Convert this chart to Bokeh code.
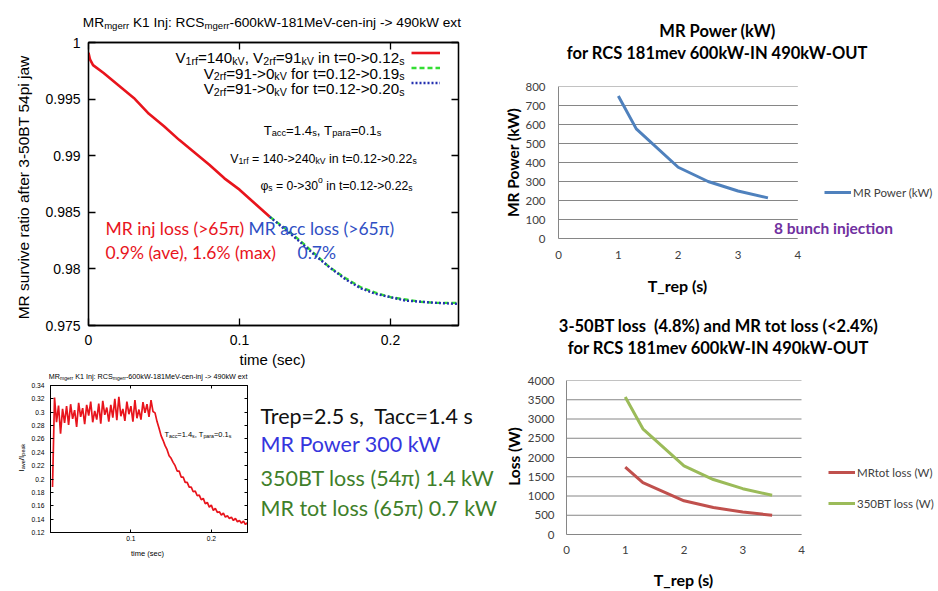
import math
from bokeh.plotting import figure
from bokeh.models import (Range1d, LinearAxis, FixedTicker, CustomJSTickFormatter,
                          Label, Legend, LegendItem)
from bokeh.layouts import row, column
from bokeh.embed import file_html
from bokeh.resources import INLINE

# ---------------- data ----------------
# Panel A: MR survive ratio vs time
inj_t = [0.0, 0.001, 0.003, 0.01, 0.02, 0.03, 0.04, 0.05, 0.06, 0.07, 0.08, 0.09, 0.10, 0.11, 0.12]
inj_ratio = [0.9991, 0.9985, 0.9980, 0.9973, 0.9962, 0.9951, 0.9937, 0.9926, 0.9914, 0.9903,
             0.9892, 0.9880, 0.9870, 0.9858, 0.9846]
acc_t = [0.12, 0.13, 0.14, 0.15, 0.16, 0.17, 0.18, 0.19, 0.20, 0.21, 0.22, 0.23, 0.245]
acc_ratio_19 = [0.9846, 0.9836, 0.9825, 0.9813, 0.9801, 0.9792, 0.9784, 0.9779, 0.9775, 0.9773, 0.9771, 0.9770, 0.9770]
acc_ratio_20 = [0.9846, 0.9835, 0.9824, 0.9812, 0.9801, 0.9791, 0.9783, 0.9778, 0.9775, 0.9772, 0.9771, 0.9770, 0.9769]
a_xticks = [0.0, 0.1, 0.2]
a_xlabels = ["0", "0.1", "0.2"]
a_yticks = [0.975, 0.98, 0.985, 0.99, 0.995, 1.0]
a_ylabels = ["0.975", "0.98", "0.985", "0.99", "0.995", "1"]

# Panel B: I_ave / I_peak vs time
b_t = [0.0025, 0.0050, 0.0075, 0.0100, 0.0125, 0.0150, 0.0175, 0.0200, 0.0225, 0.0250,
       0.0275, 0.0300, 0.0325, 0.0350, 0.0375, 0.0400, 0.0425, 0.0450, 0.0475, 0.0500,
       0.0525, 0.0550, 0.0575, 0.0600, 0.0625, 0.0650, 0.0675, 0.0700, 0.0725, 0.0750,
       0.0775, 0.0800, 0.0825, 0.0850, 0.0875, 0.0900, 0.0925, 0.0950, 0.0975, 0.1000,
       0.1025, 0.1050, 0.1075, 0.1100, 0.1125, 0.1150, 0.1175, 0.1200, 0.1225, 0.1250,
       0.1275, 0.1300, 0.1325, 0.1350, 0.1375, 0.1400, 0.1425, 0.1450, 0.1475, 0.1500,
       0.1525, 0.1550, 0.1575, 0.1600, 0.1625, 0.1650, 0.1675, 0.1700, 0.1725, 0.1750,
       0.1775, 0.1800, 0.1825, 0.1850, 0.1875, 0.1900, 0.1925, 0.1950, 0.1975, 0.2000,
       0.2025, 0.2050, 0.2075, 0.2100, 0.2125, 0.2150, 0.2175, 0.2200, 0.2225, 0.2250,
       0.2275, 0.2300, 0.2325, 0.2350, 0.2375, 0.2400, 0.2425, 0.2450]
b_ratio = [0.188, 0.322, 0.285, 0.310, 0.268, 0.305, 0.284, 0.309, 0.281, 0.312,
           0.290, 0.303, 0.278, 0.314, 0.293, 0.306, 0.282, 0.311, 0.295, 0.316,
           0.285, 0.302, 0.289, 0.313, 0.283, 0.317, 0.296, 0.307, 0.286, 0.311,
           0.292, 0.320, 0.288, 0.323, 0.294, 0.305, 0.287, 0.316, 0.297, 0.309,
           0.286, 0.318, 0.291, 0.304, 0.289, 0.315, 0.299, 0.312, 0.293, 0.318,
           0.301, 0.299, 0.286, 0.276, 0.265, 0.258, 0.250, 0.244, 0.235, 0.231,
           0.225, 0.220, 0.212, 0.212, 0.203, 0.203, 0.195, 0.195, 0.188, 0.188,
           0.181, 0.182, 0.175, 0.176, 0.169, 0.171, 0.163, 0.165, 0.158, 0.161,
           0.153, 0.156, 0.150, 0.151, 0.146, 0.149, 0.143, 0.145, 0.141, 0.143,
           0.138, 0.141, 0.136, 0.138, 0.134, 0.137, 0.132, 0.135]
b_xticks = [0.1, 0.2]
b_xlabels = ["0.1", "0.2"]
b_yticks = [0.12, 0.14, 0.16, 0.18, 0.20, 0.22, 0.24, 0.26, 0.28, 0.30, 0.32, 0.34]
b_ylabels = ["0.12", "0.14", "0.16", "0.18", "0.2", "0.22", "0.24", "0.26", "0.28", "0.3", "0.32", "0.34"]

# Panel C: MR power vs T_rep
trep = [1.0, 1.3, 2.0, 2.5, 3.0, 3.5]
mr_power_kw = [750, 577, 375, 300, 250, 214]
c_xticks = [0, 1, 2, 3, 4]
c_xlabels = ["0", "1", "2", "3", "4"]
c_yticks = [0, 100, 200, 300, 400, 500, 600, 700, 800]
c_ylabels = ["0", "100", "200", "300", "400", "500", "600", "700", "800"]

# Panel D: losses vs T_rep
mrtot_loss_w = [1750, 1346, 875, 700, 583, 500]
bt350_loss_w = [3570, 2746, 1785, 1428, 1190, 1020]
d_yticks = [0, 500, 1000, 1500, 2000, 2500, 3000, 3500, 4000]
d_ylabels = ["0", "500", "1000", "1500", "2000", "2500", "3000", "3500", "4000"]

# ---------------- helpers ----------------
GN = "Liberation Sans"
XL = "Lato"
RED = "#e8141c"
BLUE_T = "#2f4fc4"
NB = "\u00a0"

AW = {' ': 278, NB: 278, '!': 278, '(': 333, ')': 333, ',': 278, '-': 333, '.': 278, '/': 278, ':': 278,
      '=': 584, '>': 584, '<': 584, '°': 400, 'φ': 650,
      'A': 667, 'B': 667, 'C': 722, 'D': 722, 'E': 667, 'F': 611, 'G': 778, 'H': 722, 'I': 278,
      'J': 500, 'K': 667, 'L': 556, 'M': 833, 'N': 722, 'O': 778, 'P': 667, 'Q': 778, 'R': 722,
      'S': 667, 'T': 611, 'U': 722, 'V': 667, 'W': 944, 'X': 667, 'Y': 667, 'Z': 611,
      'a': 556, 'b': 556, 'c': 500, 'd': 556, 'e': 556, 'f': 278, 'g': 556, 'h': 556, 'i': 222,
      'j': 222, 'k': 500, 'l': 222, 'm': 833, 'n': 556, 'o': 556, 'p': 556, 'q': 556, 'r': 333,
      's': 500, 't': 278, 'u': 556, 'v': 500, 'w': 722, 'x': 500, 'y': 500, 'z': 500}
for d in "0123456789":
    AW[d] = 556


def text_w(s, size):
    return sum(AW.get(c, 556) for c in s) * size / 1000.0


def put(p, x, y, **kw):
    # x, y in picture pixels, through the "px"/"py" ranges of each figure
    p.add_layout(Label(x=x, y=y, x_range_name="px", y_range_name="py", **kw))


def rich(p, x, y, segs, size, color="black", align="left", angle=0.0, font=GN):
    sc = {"n": 1.0, "sub": 0.7, "sup": 0.7}
    dv = {"n": 0.0, "sub": 0.22, "sup": -0.42}
    segs = [(t.replace(" ", NB), k) for t, k in segs]
    total = sum(text_w(t, size * sc[k]) for t, k in segs)
    pos = {"left": 0.0, "center": -total / 2.0, "right": -total}[align]
    ca, sa = math.cos(angle), math.sin(angle)
    for t, k in segs:
        s = size * sc[k]
        d = dv[k] * size
        lx = x + pos * ca + d * sa
        ly = y - pos * sa + d * ca
        put(p, lx, ly, text=t, text_font=font, text_font_size=f"{s:.2f}px", text_color=color,
            text_align="left", text_baseline="alphabetic", angle=angle)
        pos += text_w(t, s)


def plain(p, x, y, text, size, color="black", font=XL, style="normal", align="left", angle=0.0):
    put(p, x, y, text=text.replace("  ", NB + " "), text_font=font, text_font_size=f"{size}px",
        text_color=color, text_font_style=style, text_align=align, text_baseline="middle", angle=angle)


def panel(ox, oy, w, h, L, T, R, B, xr, yr):
    p = figure(width=w, height=h, x_range=xr, y_range=yr, output_backend="svg",
               toolbar_location=None, min_border_left=L - ox, min_border_right=ox + w - R,
               min_border_top=T - oy, min_border_bottom=oy + h - B,
               background_fill_color="white", border_fill_color="white")
    p.extra_x_ranges = {"px": Range1d(L, R)}
    p.extra_y_ranges = {"py": Range1d(B, T)}
    return p


def band(x0, y0, w, h):
    p = figure(width=w, height=h, x_range=Range1d(x0, x0 + w), y_range=Range1d(y0 + h, y0),
               output_backend="svg", toolbar_location=None, x_axis_type=None, y_axis_type=None,
               min_border=0, min_border_left=0, min_border_right=0, min_border_top=0,
               min_border_bottom=0, outline_line_color=None, background_fill_color="white",
               border_fill_color="white")
    p.extra_x_ranges = {"px": Range1d(x0, x0 + w)}
    p.extra_y_ranges = {"py": Range1d(y0 + h, y0)}
    return p


def tick_fmt(vals, labs):
    return CustomJSTickFormatter(args=dict(vals=vals, labs=labs), code="""
let b = 0;
for (let i = 0; i < vals.length; i++) {
  if (Math.abs(vals[i] - tick) < Math.abs(vals[b] - tick)) { b = i; }
}
return labs[b];
""")


def gp_axes(p, xt, xl, yt, yl, size, tick, xs, ys, lw):
    p.grid.visible = False
    p.outline_line_color = "black"
    p.outline_line_width = lw
    bx = p.xaxis[0]
    by = p.yaxis[0]
    bx.ticker = FixedTicker(ticks=xt)
    bx.formatter = tick_fmt(xt, xl)
    by.ticker = FixedTicker(ticks=yt)
    by.formatter = tick_fmt(yt, yl)
    bx.major_label_standoff = xs
    by.major_label_standoff = ys
    top = LinearAxis(ticker=FixedTicker(ticks=xt), formatter=CustomJSTickFormatter(code="return '';"),
                     major_label_standoff=0)
    right = LinearAxis(ticker=FixedTicker(ticks=yt), formatter=CustomJSTickFormatter(code="return '';"),
                       major_label_standoff=0)
    p.add_layout(top, "above")
    p.add_layout(right, "right")
    for a in (bx, by, top, right):
        a.major_tick_in = tick
        a.major_tick_out = 0
        a.minor_tick_in = 0
        a.minor_tick_out = 0
        a.axis_line_color = "black"
        a.axis_line_width = lw
        a.major_tick_line_color = "black"
        a.major_tick_line_width = lw
        a.major_label_text_font = GN
        a.major_label_text_font_size = f"{size}px"
        a.major_label_text_color = "black"
    top.major_label_text_font_size = "1px"
    right.major_label_text_font_size = "1px"


def xl_axes(p, xt, xl, yt, yl, xs, ys):
    p.outline_line_color = None
    p.grid.visible = False
    for a, t, l, s in ((p.xaxis[0], xt, xl, xs), (p.yaxis[0], yt, yl, ys)):
        a.ticker = FixedTicker(ticks=t)
        a.formatter = tick_fmt(t, l)
        a.major_tick_in = 0
        a.major_tick_out = 0
        a.minor_tick_in = 0
        a.minor_tick_out = 0
        a.axis_line_color = "#868686"
        a.major_label_text_font = XL
        a.major_label_text_font_size = "11.5px"
        a.major_label_text_color = "#404040"
        a.major_label_standoff = s
    p.xaxis[0].bounds = (xt[0], xt[-1])
    # horizontal gridlines over the 0..4 span of the category axis
    p.segment(x0=[xt[0]] * len(yt), x1=[xt[-1]] * len(yt), y0=yt, y1=yt,
              line_color="#868686", line_width=1)


def block(top, left, plot, bottom):
    return column(row(top), row(column(left), column(plot)), row(bottom))


# ---------------- Panel A ----------------
tA = band(0, 0, 480, 34)
lA = band(0, 34, 40, 316)
pA = panel(40, 34, 440, 316, 88, 42, 458, 325, Range1d(0, 0.245), Range1d(0.975, 1.0))
bA = band(0, 350, 480, 18)
gp_axes(pA, a_xticks, a_xlabels, a_yticks, a_ylabels, 14, 7, 9, 8, 1.3)
r_red = pA.line(inj_t, inj_ratio, line_color=RED, line_width=2.6)
r_grn = pA.line(acc_t, acc_ratio_19, line_color="#33dd33", line_width=2.4, line_dash="5 3")
r_blu = pA.line(acc_t, acc_ratio_20, line_color="#2430b0", line_width=2.4, line_dash="2 2")
leg_a = Legend(items=[LegendItem(label="", renderers=[r_red]),
                      LegendItem(label="", renderers=[r_grn]),
                      LegendItem(label="", renderers=[r_blu])],
               location=(323, 235), glyph_width=29, glyph_height=15, label_height=15, spacing=0,
               padding=0, margin=0, label_width=0, label_standoff=0,
               border_line_color=None, background_fill_alpha=0)
pA.add_layout(leg_a, "center")

rich(tA, 272, 22, [("MR", "n"), ("mgerr", "sub"), (" K1 Inj: RCS", "n"), ("mgerr", "sub"),
                   ("-600kW-181MeV-cen-inj -> 490kW ext", "n")], 13.7, align="center")
rich(pA, 404, 57, [("V", "n"), ("1rf", "sub"), ("=140", "n"), ("kV", "sub"), (", V", "n"), ("2rf", "sub"),
                   ("=91", "n"), ("kV", "sub"), (" in t=0->0.12", "n"), ("s", "sub")], 15.2, align="right")
rich(pA, 404, 72.5, [("V", "n"), ("2rf", "sub"), ("=91->0", "n"), ("kV", "sub"),
                     (" for t=0.12->0.19", "n"), ("s", "sub")], 15.2, align="right")
rich(pA, 404, 88, [("V", "n"), ("2rf", "sub"), ("=91->0", "n"), ("kV", "sub"),
                   (" for t=0.12->0.20", "n"), ("s", "sub")], 15.2, align="right")
rich(pA, 322, 130, [("T", "n"), ("acc", "sub"), ("=1.4", "n"), ("s", "sub"), (", T", "n"), ("para", "sub"),
                    ("=0.1", "n"), ("s", "sub")], 13.2, align="center")
rich(pA, 323, 158, [("V", "n"), ("1rf", "sub"), (" = 140->240", "n"), ("kV", "sub"),
                    (" in t=0.12->0.22", "n"), ("s", "sub")], 12.4, align="center")
rich(pA, 336, 185, [("φ", "n"), ("s", "sub"), (" = 0->30", "n"), ("o", "sup"),
                    (" in t=0.12->0.22", "n"), ("s", "sub")], 12.2, align="center")
rich(lA, 23, 187, [("MR survive ratio after 3-50BT 54pi jaw", "n")], 15.5, align="center",
     angle=math.pi / 2)
plain(bA, 272, 359, "time (sec)", 15, font=GN, align="center")
plain(pA, 105, 228, "MR inj loss (>65π)", 17.5, color=RED)
plain(pA, 248, 228, "MR acc loss (>65π)", 17.5, color=BLUE_T)
plain(pA, 105, 252, "0.9% (ave), 1.6% (max)", 17.5, color=RED)
plain(pA, 297, 252, "0.7%", 17.5, color=BLUE_T)

# ---------------- Panel B ----------------
tB = band(0, 368, 250, 13)
lB = band(0, 381, 26, 164)
pB = panel(26, 381, 224, 164, 50, 385, 247, 532, Range1d(0, 0.245), Range1d(0.12, 0.34))
bB = band(0, 545, 250, 46)
gp_axes(pB, b_xticks, b_xlabels, b_yticks, b_ylabels, 6.7, 3, 3, 6, 1)
pB.line(b_t, b_ratio, line_color=RED, line_width=1.7)
rich(tB, 148, 375.5, [("MR", "n"), ("mgerr", "sub"), (" K1 Inj: RCS", "n"), ("mgerr", "sub"),
                      ("-600kW-181MeV-cen-inj -> 490kW ext", "n")], 7.2, align="center")
rich(pB, 164, 434, [("T", "n"), ("acc", "sub"), ("=1.4", "n"), ("s", "sub"), (", T", "n"), ("para", "sub"),
                    ("=0.1", "n"), ("s", "sub")], 7.5)
rich(lB, 20.5, 457, [("I", "n"), ("ave", "sub"), ("/I", "n"), ("peak", "sub")], 8, align="center",
     angle=math.pi / 2)
plain(bB, 147, 553, "time (sec)", 7.5, font=GN, align="center")

# ---------------- Text block ----------------
pE = band(250, 368, 253, 223)
GREEN_T = "#3f7f2a"
plain(pE, 260, 415, "Trep=2.5 s,  Tacc=1.4 s", 21.5, color="#111111")
plain(pE, 260, 443, "MR Power 300 kW", 21.5, color="#3535dd")
plain(pE, 260, 477, "350BT loss (54π) 1.4 kW", 21.5, color=GREEN_T)
plain(pE, 260, 507, "MR tot loss (65π) 0.7 kW", 21.5, color=GREEN_T)

# ---------------- Panel C ----------------
tC = band(480, 0, 458, 70)
lC = band(480, 70, 42, 198)
pC = panel(522, 70, 416, 198, 557, 86, 938, 238, Range1d(0, 381 / 60.0), Range1d(0, 800))
bC = band(480, 268, 458, 32)
xl_axes(pC, c_xticks, c_xlabels, c_yticks, c_ylabels, 12, 13)
r_pow = pC.line(trep, mr_power_kw, line_color="#4f81bd", line_width=3)
leg_c = Legend(items=[LegendItem(label="MR Power (kW)", renderers=[r_pow])], location=(266, 36),
               glyph_width=27, glyph_height=20, label_height=20, label_standoff=2, padding=0, margin=0,
               border_line_color=None, background_fill_alpha=0, label_text_font=XL,
               label_text_font_size="11.5px", label_text_color="#404040")
pC.add_layout(leg_c, "center")
plain(tC, 717, 30, "MR Power (kW)", 16.5, style="bold", align="center")
plain(tC, 717, 52, "for RCS 181mev 600kW-IN 490kW-OUT", 16.5, style="bold", align="center")
plain(lC, 512, 162, "MR Power (kW)", 15.5, style="bold", align="center", angle=math.pi / 2)
plain(bC, 677, 285, "T_rep (s)", 16, style="bold", align="center")
plain(pC, 773, 227, "8 bunch injection", 15.5, color="#7030a0", style="bold")

# ---------------- Panel D ----------------
tD = band(480, 300, 458, 68)
lD = band(503, 368, 21, 194)
pD = panel(524, 368, 414, 194, 566, 380, 938, 534, Range1d(0, 372 / 58.75), Range1d(0, 4000))
bD = band(503, 562, 435, 29)
xl_axes(pD, c_xticks, c_xlabels, d_yticks, d_ylabels, 11, 12)
r_mr = pD.line(trep, mrtot_loss_w, line_color="#c0504d", line_width=3)
r_bt = pD.line(trep, bt350_loss_w, line_color="#9bbb59", line_width=3)
leg_d = Legend(items=[LegendItem(label="MRtot loss (W)", renderers=[r_mr]),
                      LegendItem(label="350BT loss (W)", renderers=[r_bt])], location=(262, 21),
               glyph_width=27, glyph_height=20, label_height=20, label_standoff=2, spacing=11,
               padding=0, margin=0, border_line_color=None, background_fill_alpha=0,
               label_text_font=XL, label_text_font_size="11.5px", label_text_color="#404040")
pD.add_layout(leg_d, "center")
plain(tD, 718, 325, "3-50BT loss  (4.8%) and MR tot loss (<2.4%)", 16.5, style="bold", align="center")
plain(tD, 718, 347, "for RCS 181mev 600kW-IN 490kW-OUT", 16.5, style="bold", align="center")
plain(lD, 513, 456, "Loss (W)", 15.5, style="bold", align="center", angle=math.pi / 2)
plain(bD, 683, 579, "T_rep (s)", 16, style="bold", align="center")

top = row(block(tA, lA, pA, bA), column(block(tC, lC, pC, bC), row(tD)))
bottom = row(block(tB, lB, pB, bB), column(pE),
             column(row(column(lD), column(pD)), row(bD)))
layout = column(top, bottom)
open("out.html", "w").write(file_html(layout, INLINE))
